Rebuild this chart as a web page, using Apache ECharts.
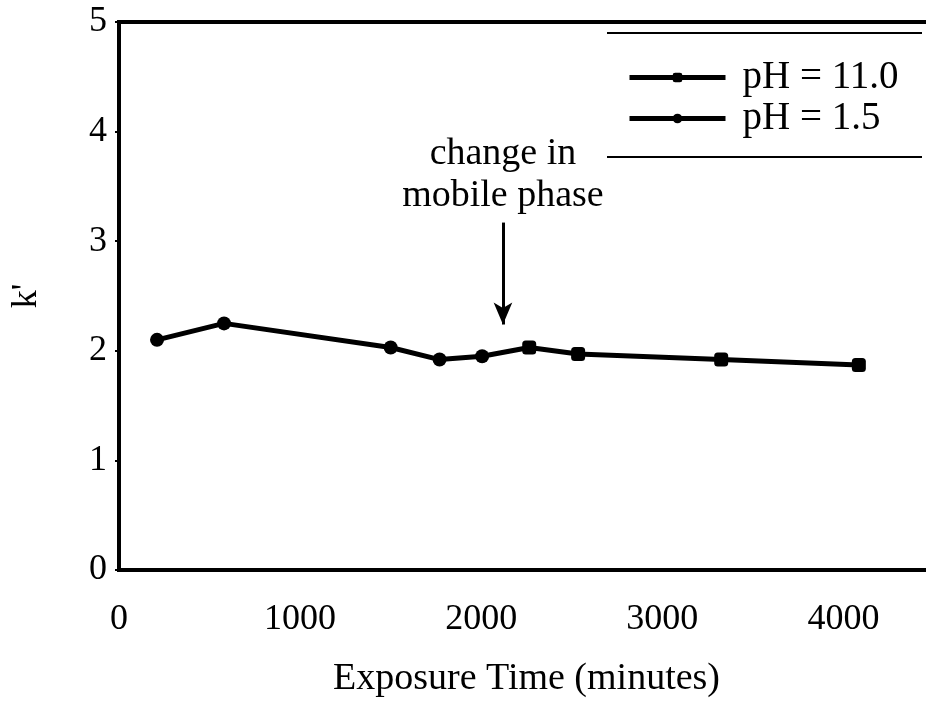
<!DOCTYPE html>
<html>
<head>
<meta charset="utf-8">
<script src="https://cdn.jsdelivr.net/npm/echarts@6/dist/echarts.min.js"></script>
<style>
  html, body { margin: 0; padding: 0; background: #fff; }
  #chart { width: 926px; height: 710px; }
</style>
</head>
<body>
<div id="chart"></div>
<script>
// --- data ---
const timeLow = [210, 580, 1500, 1770, 2005]        // pH 1.5 (minutes)
const kLow = [2.10, 2.25, 2.03, 1.92, 1.95]
const timeHigh = [2265, 2535, 3325, 4085]           // pH 11.0 (minutes)
const kHigh = [2.03, 1.97, 1.92, 1.87]
const yTicks = [0, 1, 2, 3, 4, 5]
const changeTime = 2120                              // arrow: change in mobile phase
const arrowFrom = 3.17
const arrowTo = 2.24

const font = 'Liberation Serif, Times New Roman, serif'

const lowData = timeLow.map((t, i) => [t, kLow[i]])
// the drawn line continues across the change, so the pH 11.0 trace starts at the last pH 1.5 point
const highData = [
  { value: lowData[lowData.length - 1], symbol: 'none' },
  ...timeHigh.map((t, i) => [t, kHigh[i]]),
]

const chart = echarts.init(document.getElementById('chart'))

const options = {
  animation: false,
  backgroundColor: '#fff',
  textStyle: { fontFamily: font, color: '#000' },
  grid: {
    left: 119, top: 22, width: 815, height: 548,
    outerBoundsMode: 'none',
    show: true, borderColor: '#000', borderWidth: 4,
  },
  legend: {
    data: ['pH = 11.0', 'pH = 1.5'],
    orient: 'vertical',
    left: 622, top: 53,
    itemWidth: 96, itemHeight: 12, itemGap: 2,
    lineStyle: { width: 5 },
    textStyle: { fontFamily: font, fontSize: 39, color: '#000', padding: [0, 0, 0, 12] },
  },
  graphic: [
    { type: 'line', shape: { x1: 607, y1: 33, x2: 922, y2: 33 }, style: { stroke: '#000', lineWidth: 2 } },
    { type: 'line', shape: { x1: 607, y1: 157, x2: 922, y2: 157 }, style: { stroke: '#000', lineWidth: 2 } },
  ],
  xAxis: {
    type: 'value', min: 0, max: 4500, interval: 1000,
    name: 'Exposure Time (minutes)', nameLocation: 'middle', nameGap: 90,
    nameTextStyle: { fontFamily: font, fontSize: 38, color: '#000' },
    axisLine: { lineStyle: { color: '#000', width: 4 } },
    axisTick: { show: false },
    splitLine: { show: false },
    axisLabel: {
      fontFamily: font, fontSize: 36, color: '#000', margin: 32,
      formatter: (v) => (v % 1000 === 0 && v <= 4000 ? String(v) : ''),
    },
  },
  yAxis: {
    type: 'value', min: yTicks[0], max: yTicks[yTicks.length - 1], interval: 1,
    name: "k'", nameLocation: 'middle', nameGap: 74, nameRotate: 90,
    nameTextStyle: { fontFamily: font, fontSize: 36, color: '#000' },
    axisLine: { lineStyle: { color: '#000', width: 3 } },
    axisTick: { show: true, inside: false, length: 4, lineStyle: { color: '#000', width: 2 } },
    splitLine: { show: false },
    axisLabel: { fontFamily: font, fontSize: 36, color: '#000', margin: 12 },
  },
  series: [
    {
      name: 'pH = 1.5',
      type: 'line',
      data: lowData,
      symbol: 'circle',
      symbolSize: 14,
      color: '#000',
      lineStyle: { color: '#000', width: 5 },
      itemStyle: { color: '#000' },
      markLine: {
        silent: true,
        symbol: ['none', 'arrow'],
        symbolSize: [14, 22],
        lineStyle: { color: '#000', width: 3, type: 'solid' },
        label: {
          show: true,
          position: 'start',
          distance: 6,
          formatter: 'change in\nmobile phase',
          fontFamily: font, fontSize: 38, lineHeight: 42, color: '#000',
        },
        data: [[{ coord: [changeTime, arrowFrom] }, { coord: [changeTime, arrowTo] }]],
      },
    },
    {
      name: 'pH = 11.0',
      type: 'line',
      data: highData,
      symbol: 'roundRect',
      symbolSize: 14,
      color: '#000',
      lineStyle: { color: '#000', width: 5 },
      itemStyle: { color: '#000' },
    },
  ],
}

chart.setOption(options)
</script>
</body>
</html>
